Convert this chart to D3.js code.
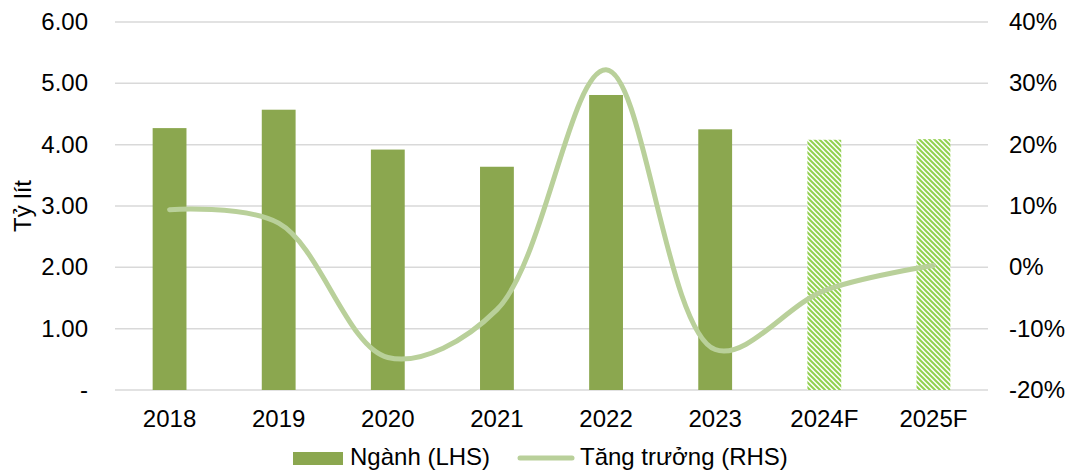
<!DOCTYPE html>
<html>
<head>
<meta charset="utf-8">
<script src="https://cdn.jsdelivr.net/npm/d3@7"></script>
<style>
  body { margin: 0; background: #fff; }
  text { font-family: "Liberation Sans", Arial, sans-serif; fill: #000; }
</style>
</head>
<body>
<script>
// data
const years = ["2018", "2019", "2020", "2021", "2022", "2023", "2024F", "2025F"];
const volume = [4.27, 4.57, 3.92, 3.64, 4.81, 4.25, 4.08, 4.09];   // Tỷ lít (LHS)
const growth = [9.4, 7.2, -14.7, -6.9, 32.2, -13.4, -3.8, 0.3];    // % (RHS)
const forecast = [false, false, false, false, false, false, true, true];
const leftTicks = [0, 1, 2, 3, 4, 5, 6];
const rightTicks = [-20, -10, 0, 10, 20, 30, 40];

const W = 1081, H = 472;
const plotL = 115, plotR = 988, plotT = 22, plotB = 390;
const fs = 24;

const svg = d3.select("body").append("svg")
    .attr("width", W)
    .attr("height", H);

// hatch for forecast bars (downward diagonal)
const pat = svg.append("defs").append("pattern")
    .attr("id", "hatch")
    .attr("patternUnits", "userSpaceOnUse")
    .attr("width", 5)
    .attr("height", 5);
pat.append("rect").attr("width", 5).attr("height", 5).attr("fill", "#fff");
pat.append("path")
    .attr("d", "M-1,-1L6,6M-1,4L1,6M4,-1L6,1")
    .attr("stroke", "#92D050")
    .attr("stroke-width", 2);

const x = d3.scaleBand().domain(years).range([plotL, plotR]).paddingInner(0.69).paddingOuter(0.345);
const yL = d3.scaleLinear().domain([0, 6]).range([plotB, plotT]);
const yR = d3.scaleLinear().domain([-20, 40]).range([plotB, plotT]);

// gridlines
svg.append("g").selectAll("line")
    .data(leftTicks)
    .join("line")
    .attr("x1", plotL).attr("x2", plotR)
    .attr("y1", d => yL(d)).attr("y2", d => yL(d))
    .attr("stroke", "#D9D9D9")
    .attr("stroke-width", 1.5);

// left axis labels
svg.append("g").selectAll("text")
    .data(leftTicks)
    .join("text")
    .attr("x", 88)
    .attr("y", d => yL(d) + 8)
    .attr("text-anchor", "end")
    .attr("font-size", fs)
    .text(d => d === 0 ? "-" : d.toFixed(2));

// right axis labels
svg.append("g").selectAll("text")
    .data(rightTicks)
    .join("text")
    .attr("x", 1009)
    .attr("y", d => yR(d) + 8)
    .attr("font-size", fs)
    .text(d => d + "%");

svg.append("text")
    .attr("transform", "translate(31,206) rotate(-90)")
    .attr("text-anchor", "middle")
    .attr("font-size", fs)
    .text("Tỷ lít");

// bars
svg.append("g").selectAll("rect")
    .data(years)
    .join("rect")
    .attr("x", d => x(d))
    .attr("width", x.bandwidth())
    .attr("y", (d, i) => yL(volume[i]))
    .attr("height", (d, i) => yL(0) - yL(volume[i]))
    .attr("fill", (d, i) => forecast[i] ? "url(#hatch)" : "#8BA74F");

// x labels
svg.append("g").selectAll("text")
    .data(years)
    .join("text")
    .attr("x", d => x(d) + x.bandwidth() / 2)
    .attr("y", 427)
    .attr("text-anchor", "middle")
    .attr("font-size", fs)
    .text(d => d);

// growth line
const line = d3.line()
    .x((d, i) => x(years[i]) + x.bandwidth() / 2)
    .y(d => yR(d))
    .curve(d3.curveCatmullRom.alpha(0.5));

svg.append("path")
    .datum(growth)
    .attr("d", line)
    .attr("fill", "none")
    .attr("stroke", "#B9D09A")
    .attr("stroke-width", 5)
    .attr("stroke-linecap", "round");

// legend
const lg = svg.append("g");
lg.append("rect").attr("x", 293).attr("y", 452).attr("width", 50).attr("height", 13).attr("fill", "#8BA74F");
lg.append("text").attr("x", 350).attr("y", 465).attr("font-size", fs).text("Ngành (LHS)");
lg.append("line").attr("x1", 520).attr("x2", 572).attr("y1", 458).attr("y2", 458)
    .attr("stroke", "#B9D09A").attr("stroke-width", 5).attr("stroke-linecap", "round");
lg.append("text").attr("x", 580).attr("y", 465).attr("font-size", fs).text("Tăng trưởng (RHS)");
</script>
</body>
</html>
